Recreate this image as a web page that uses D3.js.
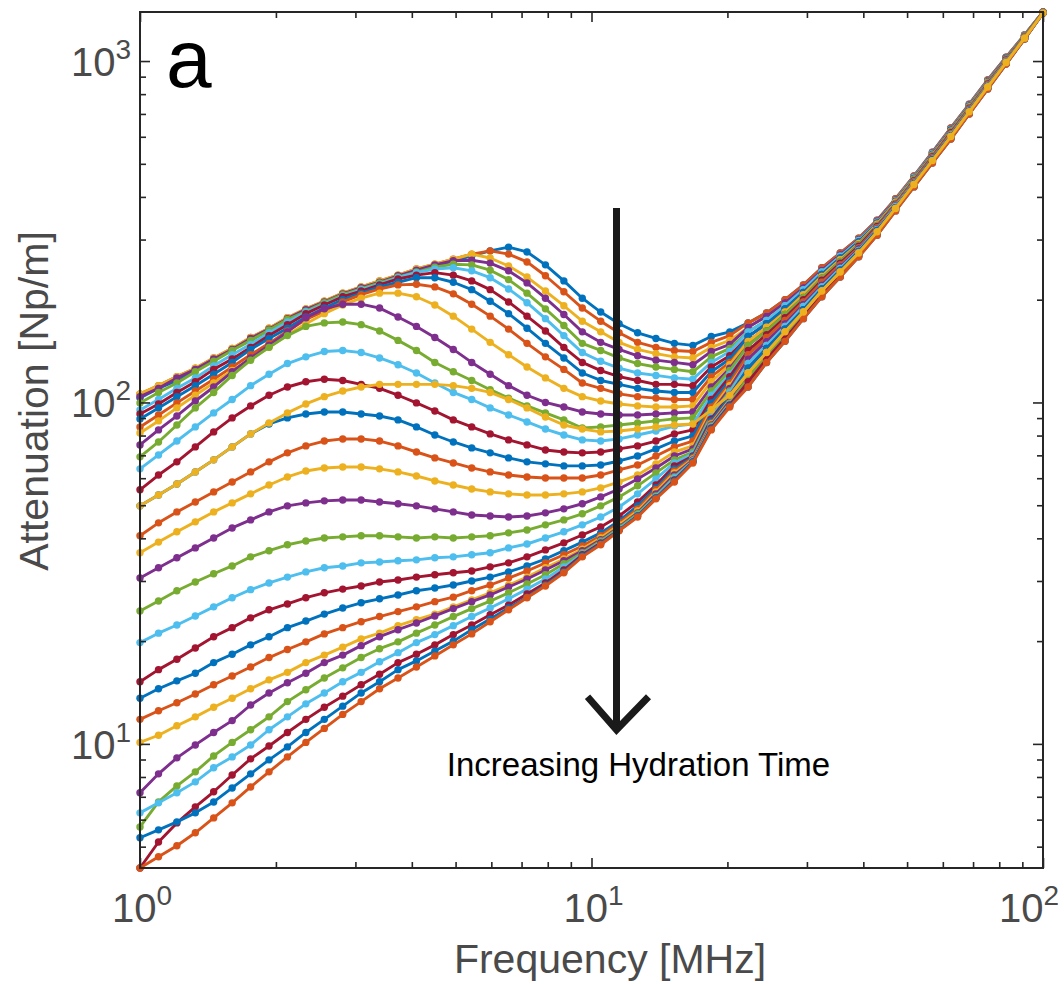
<!DOCTYPE html>
<html>
<head>
<meta charset="utf-8">
<script src="https://cdn.jsdelivr.net/npm/d3@7"></script>
<style>
  body { margin: 0; background: #fff; }
  svg text { font-family: "Liberation Sans", Arial, Helvetica, sans-serif; }
</style>
</head>
<body>
<svg id="chart" width="1064" height="984"></svg>
<script>
// measurement frequencies [MHz], 50 log-spaced points 1..100
const freqMHz = [1.000, 1.099, 1.207, 1.326, 1.456, 1.600, 1.758, 1.931, 2.121, 2.330,
  2.560, 2.812, 3.089, 3.393, 3.728, 4.095, 4.498, 4.942, 5.429, 5.964,
  6.551, 7.197, 7.906, 8.685, 9.541, 10.48, 11.51, 12.65, 13.89, 15.26,
  16.77, 18.42, 20.24, 22.23, 24.42, 26.83, 29.47, 32.37, 35.56, 39.07,
  42.92, 47.15, 51.79, 56.90, 62.51, 68.66, 75.43, 82.86, 91.03, 100.0];

// attenuation [Np/m] below ~20 MHz (first 33 frequencies), one list per hydration step
const low01 = [103, 110, 116, 125, 133, 143, 152, 163, 175, 185, 196, 207, 215, 224, 233, 243, 251, 260, 269, 278, 285, 276, 253, 227, 202, 184, 170, 160, 154, 149, 147, 156, 161];
const low02 = [106, 112, 119, 126, 135, 144, 155, 165, 177, 188, 198, 209, 218, 227, 236, 246, 254, 263, 272, 278, 272, 258, 235, 211, 189, 173, 160, 150, 145, 142, 141, 150, 157];
const low03 = [106, 112, 119, 126, 135, 144, 155, 165, 177, 188, 198, 209, 218, 227, 236, 246, 254, 263, 272, 265, 251, 233, 212, 192, 173, 161, 150, 143, 139, 136, 135, 145, 152];
const low04 = [104, 110, 118, 125, 134, 143, 154, 164, 176, 187, 197, 208, 217, 225, 235, 244, 253, 260, 261, 256, 243, 224, 202, 181, 161, 150, 143, 137, 133, 131, 129, 141, 148];
const low05 = [99.7, 107, 114, 123, 132, 142, 152, 163, 175, 185, 196, 207, 215, 224, 233, 241, 249, 254, 253, 244, 229, 209, 188, 168, 149, 142, 135, 130, 127, 125, 123, 136, 144];
const low06 = [95.1, 102, 110, 118, 128, 138, 148, 160, 172, 184, 194, 205, 214, 222, 232, 240, 246, 248, 243, 232, 215, 196, 176, 157, 140, 132, 126, 122, 120, 118, 117, 131, 141];
const low07 = [92.5, 99.0, 107, 115, 125, 134, 145, 157, 169, 182, 193, 204, 212, 221, 230, 236, 240, 236, 227, 214, 197, 179, 162, 145, 131, 124, 119, 116, 113, 113, 112, 127, 137];
const low08 = [89.5, 96.4, 104, 112, 121, 131, 143, 154, 165, 178, 189, 200, 209, 218, 225, 232, 232, 225, 214, 198, 182, 165, 149, 135, 122, 116, 113, 110, 108, 107, 107, 123, 134];
const low09 = [84.8, 91.9, 99.7, 108, 117, 127, 138, 149, 162, 175, 185, 197, 207, 215, 221, 222, 218, 208, 194, 179, 164, 149, 136, 125, 114, 110, 106, 104, 103, 102, 102, 119, 131];
const low10 = [81.4, 88.3, 96.4, 105, 114, 124, 134, 145, 158, 170, 182, 193, 202, 209, 209, 204, 193, 179, 164, 150, 138, 127, 118, 110, 104, 101, 99.0, 97.7, 97.0, 97.0, 97.7, 115, 129];
const low11 = [75.1, 83.1, 91.3, 101, 111, 123, 135, 147, 161, 177, 188, 194, 194, 189, 178, 167, 155, 143, 131, 121, 112, 105, 100, 97.0, 93.8, 92.5, 91.9, 91.9, 92.5, 93.2, 93.8, 111, 126];
const low12 = [69.3, 76.6, 85.9, 96.4, 107, 120, 133, 145, 157, 167, 171, 172, 169, 162, 152, 142, 131, 123, 116, 109, 103, 97.7, 93.2, 88.9, 84.2, 84.8, 85.9, 87.1, 88.3, 89.5, 90.1, 108, 124];
const low13 = [63.9, 70.2, 77.1, 84.8, 93.2, 102, 112, 121, 130, 136, 141, 142, 140, 135, 129, 122, 114, 107, 102, 96.4, 91.9, 87.7, 83.6, 80.3, 77.7, 77.1, 78.2, 80.3, 82.5, 85.3, 86.5, 105, 121];
const low14 = [55.5, 61.3, 67.0, 74.1, 82.0, 90.1, 97.7, 105, 111, 115, 117, 116, 113, 110, 105, 99.7, 94.4, 88.9, 84.8, 80.9, 77.7, 75.1, 72.6, 71.6, 71.2, 71.6, 73.1, 74.6, 77.1, 80.9, 83.1, 102, 119];
const low15 = [49.8, 53.6, 57.7, 62.6, 67.9, 74.1, 80.9, 86.5, 90.1, 92.5, 93.8, 93.8, 92.5, 91.3, 88.9, 84.8, 80.3, 76.6, 73.6, 71.2, 68.8, 67.0, 66.1, 65.2, 65.2, 65.6, 67.4, 69.7, 73.1, 77.1, 79.8, 99.7, 116];
const low16 = [40.7, 44.4, 47.8, 51.1, 54.7, 58.5, 62.6, 67.0, 71.2, 74.6, 77.1, 78.2, 78.2, 77.1, 74.6, 71.6, 68.8, 66.5, 64.3, 62.6, 61.3, 60.5, 60.1, 60.1, 60.1, 61.3, 63.5, 65.6, 69.7, 74.1, 77.1, 97.0, 114];
const low17 = [36.3, 39.0, 41.8, 44.7, 47.8, 50.8, 54.0, 57.3, 60.5, 63.0, 64.3, 64.7, 64.7, 63.9, 62.6, 60.9, 58.9, 57.3, 55.8, 54.7, 54.0, 53.6, 53.6, 54.0, 54.7, 56.2, 58.5, 61.3, 66.1, 71.6, 74.6, 95.1, 112];
const low18 = [30.6, 32.8, 35.1, 37.5, 40.1, 42.9, 45.3, 47.8, 49.8, 50.8, 51.5, 51.8, 51.8, 51.1, 50.5, 49.8, 48.8, 47.8, 46.8, 46.5, 46.2, 46.5, 47.5, 48.8, 50.5, 52.9, 55.8, 59.7, 64.3, 69.7, 73.1, 93.2, 110];
const low19 = [24.5, 26.2, 28.1, 29.8, 31.5, 33.2, 35.3, 36.8, 38.3, 39.3, 40.1, 40.4, 40.7, 40.7, 40.4, 40.1, 40.4, 40.1, 40.4, 40.7, 41.5, 42.3, 43.8, 45.3, 47.2, 49.8, 52.9, 57.0, 62.2, 67.9, 71.6, 91.9, 108];
const low20 = [19.8, 21.1, 22.3, 23.7, 25.2, 26.8, 28.3, 29.6, 30.8, 31.9, 32.8, 33.2, 33.9, 34.1, 34.4, 34.6, 35.1, 35.3, 35.8, 36.3, 37.5, 38.5, 40.1, 41.8, 43.8, 46.2, 49.4, 54.0, 59.7, 66.5, 70.7, 90.7, 107];
const low21 = [15.2, 16.5, 17.7, 19.1, 20.6, 21.9, 23.4, 24.7, 25.7, 26.8, 27.7, 28.4, 29.0, 29.8, 30.2, 30.8, 31.3, 31.7, 32.1, 33.0, 33.9, 35.3, 37.0, 38.8, 40.9, 43.2, 46.5, 51.1, 57.3, 65.2, 69.7, 89.5, 105];
const low22 = [13.6, 14.5, 15.3, 16.1, 17.3, 18.3, 19.5, 20.6, 21.9, 22.9, 24.0, 25.0, 25.9, 26.6, 27.3, 28.1, 28.6, 29.2, 30.0, 30.8, 31.9, 33.2, 34.8, 36.8, 39.0, 41.5, 45.0, 49.8, 56.2, 63.9, 69.3, 88.3, 104];
const low23 = [11.8, 12.5, 13.2, 14.0, 14.9, 15.8, 16.8, 17.9, 18.9, 19.9, 21.0, 21.9, 22.8, 23.6, 24.4, 25.2, 26.1, 26.9, 28.1, 29.2, 30.6, 32.1, 33.9, 35.8, 38.0, 40.7, 44.4, 48.8, 55.5, 63.0, 68.8, 87.1, 102];
const low24 = [10.1, 10.6, 11.3, 12.0, 12.8, 13.6, 14.5, 15.4, 16.2, 17.3, 18.2, 19.2, 20.3, 21.1, 22.2, 23.1, 24.0, 25.2, 26.4, 27.7, 29.2, 30.8, 32.8, 34.8, 37.2, 40.1, 43.8, 48.1, 54.7, 62.2, 68.3, 86.5, 102];
const low25 = [7.19, 8.17, 9.10, 9.93, 10.8, 11.7, 13.0, 14.1, 15.1, 16.1, 17.3, 18.2, 19.4, 20.6, 21.6, 22.6, 23.7, 24.9, 26.1, 27.3, 28.8, 30.4, 32.3, 34.4, 36.8, 39.6, 43.2, 47.5, 54.0, 61.3, 67.9, 85.9, 101];
const low26 = [5.71, 6.76, 7.53, 8.28, 9.22, 10.1, 11.0, 12.0, 13.3, 14.4, 15.6, 16.7, 17.9, 19.0, 19.9, 21.1, 22.3, 23.6, 24.9, 26.2, 27.7, 29.4, 31.3, 33.7, 36.3, 39.3, 42.9, 47.2, 53.2, 60.5, 67.4, 85.3, 99.7];
const low27 = [6.28, 6.72, 7.19, 7.74, 8.51, 9.16, 9.93, 11.0, 12.0, 13.1, 14.1, 15.2, 16.2, 17.4, 18.5, 19.8, 20.9, 22.2, 23.6, 25.0, 26.6, 28.4, 30.4, 33.0, 36.0, 39.0, 42.6, 46.8, 52.9, 60.1, 67.4, 84.8, 99.0];
const low28 = [4.33, 5.16, 5.87, 6.54, 7.24, 8.11, 9.04, 9.86, 10.8, 11.8, 12.8, 13.8, 14.9, 16.0, 17.3, 18.3, 19.5, 20.9, 22.3, 23.9, 25.5, 27.5, 29.6, 32.3, 35.8, 38.8, 42.3, 46.5, 52.5, 59.3, 67.0, 84.2, 98.3];
const low29 = [5.31, 5.60, 5.91, 6.28, 6.76, 7.43, 8.17, 8.98, 9.80, 10.8, 11.8, 12.9, 14.1, 15.2, 16.5, 17.5, 18.7, 20.0, 21.6, 23.2, 25.0, 26.9, 29.2, 31.9, 35.5, 38.5, 42.3, 46.5, 52.5, 58.9, 67.0, 83.6, 97.7];
const low30 = [4.33, 4.67, 5.03, 5.49, 6.07, 6.72, 7.48, 8.28, 9.16, 10.1, 11.1, 12.2, 13.3, 14.5, 15.6, 16.8, 18.1, 19.5, 21.0, 22.8, 24.7, 26.8, 29.0, 31.7, 35.3, 38.3, 42.1, 46.2, 52.2, 58.5, 66.5, 83.1, 97.0];
const low31 = [49.8, 53.6, 57.7, 62.6, 67.9, 74.1, 80.9, 87.1, 93.2, 99.0, 104, 108, 111, 113, 113, 113, 113, 112, 110, 107, 102, 96.4, 90.7, 85.9, 83.6, 82.0, 82.5, 83.6, 84.8, 85.9, 86.5, 95.1, 105];

// above ~22 MHz the curves merge into one narrow band: read as 15 levels, top to bottom
const band01 = [171, 183, 200, 221, 248, 274, 303, 342, 395, 461, 541, 637, 748, 880, 1027, 1192, 1392];
const band02 = [166, 179, 196, 217, 244, 271, 300, 340, 392, 458, 539, 633, 745, 876, 1024, 1190, 1391];
const band03 = [161, 174, 192, 214, 241, 268, 298, 337, 390, 456, 536, 630, 741, 872, 1020, 1188, 1390];
const band04 = [156, 170, 188, 210, 237, 265, 295, 335, 388, 453, 533, 627, 738, 868, 1017, 1185, 1389];
const band05 = [151, 166, 184, 207, 234, 262, 292, 333, 386, 451, 530, 623, 734, 865, 1013, 1183, 1388];
const band06 = [147, 162, 181, 203, 231, 259, 290, 330, 383, 449, 527, 620, 730, 861, 1010, 1181, 1388];
const band07 = [142, 158, 177, 200, 228, 256, 287, 328, 381, 446, 525, 617, 727, 857, 1007, 1178, 1387];
const band08 = [138, 155, 174, 197, 225, 253, 284, 325, 379, 444, 522, 613, 724, 853, 1003, 1176, 1386];
const band09 = [134, 151, 170, 194, 221, 250, 282, 323, 377, 442, 519, 610, 720, 850, 1000, 1174, 1386];
const band10 = [130, 147, 167, 191, 218, 247, 279, 321, 375, 439, 516, 607, 717, 846, 997, 1171, 1385];
const band11 = [126, 144, 164, 187, 215, 244, 277, 319, 372, 437, 514, 604, 713, 842, 993, 1169, 1384];
const band12 = [122, 140, 161, 184, 212, 241, 274, 316, 370, 435, 511, 601, 710, 839, 990, 1167, 1384];
const band13 = [118, 137, 158, 181, 209, 239, 272, 314, 368, 432, 508, 597, 706, 835, 987, 1165, 1383];
const band14 = [115, 134, 154, 178, 207, 236, 269, 312, 366, 430, 506, 594, 703, 832, 983, 1162, 1383];
const band15 = [111, 131, 151, 176, 204, 233, 267, 309, 364, 428, 503, 591, 700, 828, 980, 1160, 1382];

const lows = [low01, low02, low03, low04, low05, low06, low07, low08, low09, low10,
  low11, low12, low13, low14, low15, low16, low17, low18, low19, low20,
  low21, low22, low23, low24, low25, low26, low27, low28, low29, low30, low31];
const bands = [band01, band02, band03, band04, band05, band06, band07, band08,
  band09, band10, band11, band12, band13, band14, band15];
// which band level each curve joins above 22 MHz
const bandOf = [1, 1, 2, 2, 3, 3, 4, 4, 5, 5, 6, 6, 7, 7, 8, 8, 9, 9, 10, 10,
  11, 11, 12, 12, 13, 13, 14, 14, 15, 15, 12];

const xMajor = [1, 10, 100];
const xMinor = [2, 3, 4, 5, 6, 7, 8, 9, 20, 30, 40, 50, 60, 70, 80, 90];
const yMajor = [10, 100, 1000];
const yMinor = [5, 6, 7, 8, 9, 20, 30, 40, 50, 60, 70, 80, 90, 200, 300, 400, 500, 600, 700, 800, 900];

const matlab = ["#0072BD", "#D95319", "#EDB120", "#7E2F8E", "#77AC30", "#4DBEEE", "#A2142F"];

const svg = d3.select("#chart");
const x = d3.scaleLog().domain([1, 100]).range([140, 1043]);
const y = d3.scaleLog().domain([4.33, 1392]).range([868, 12]);
const colour = d3.scaleOrdinal().domain(d3.range(7)).range(matlab);

const series = lows.map((lo, k) => lo.concat(bands[bandOf[k] - 1]));

const line = d3.line()
  .x((d, i) => x(freqMHz[i]))
  .y(d => y(d));

const plot = svg.append("g");
series.forEach((vals, k) => {
  const c = colour(k % 7);
  plot.append("path")
    .datum(vals)
    .attr("d", line)
    .attr("fill", "none")
    .attr("stroke", c)
    .attr("stroke-width", 2.9)
    .attr("stroke-linejoin", "round");
  plot.append("g")
    .selectAll("circle")
    .data(vals)
    .join("circle")
    .attr("cx", (d, i) => x(freqMHz[i]))
    .attr("cy", d => y(d))
    .attr("r", 3.7)
    .attr("fill", c);
});

// axes box + inward ticks on all four sides
const axisCol = "#262626";
function tickSet(axis, vals, len, tr) {
  svg.append("g")
    .attr("transform", tr)
    .call(axis.tickValues(vals).tickSizeInner(-len).tickSizeOuter(0).tickFormat(""))
    .call(g => g.select(".domain").remove())
    .selectAll("line")
    .attr("stroke", axisCol)
    .attr("stroke-width", 1.6);
}
tickSet(d3.axisBottom(x), xMajor, 10, "translate(0,868)");
tickSet(d3.axisBottom(x), xMinor, 6, "translate(0,868)");
tickSet(d3.axisTop(x), xMajor, 10, "translate(0,12)");
tickSet(d3.axisTop(x), xMinor, 6, "translate(0,12)");
tickSet(d3.axisLeft(y), yMajor, 10, "translate(140,0)");
tickSet(d3.axisLeft(y), yMinor, 6, "translate(140,0)");
tickSet(d3.axisRight(y), yMajor, 10, "translate(1043,0)");
tickSet(d3.axisRight(y), yMinor, 6, "translate(1043,0)");

svg.append("rect")
  .attr("x", 140).attr("y", 12)
  .attr("width", 903).attr("height", 856)
  .attr("fill", "none")
  .attr("stroke", axisCol)
  .attr("stroke-width", 2);

// tick labels 10^n
const labCol = "#4a4a4a";
function powLabel(sel) {
  sel.each(function(d) {
    const t = d3.select(this);
    t.append("tspan").text("10");
    t.append("tspan").attr("dy", -17).attr("font-size", 28).text(Math.round(Math.log10(d)));
  });
}
svg.append("g").selectAll("text")
  .data(xMajor)
  .join("text")
  .attr("x", (d, i) => i === xMajor.length - 1 ? 1059 : x(d) + 2)
  .attr("y", 922)
  .attr("text-anchor", (d, i) => i === xMajor.length - 1 ? "end" : "middle")
  .attr("font-size", 40)
  .attr("fill", labCol)
  .call(powLabel);

svg.append("g").selectAll("text")
  .data(yMajor)
  .join("text")
  .attr("x", 131)
  .attr("y", d => y(d) + 15)
  .attr("text-anchor", "end")
  .attr("font-size", 40)
  .attr("fill", labCol)
  .call(powLabel);

svg.append("text")
  .attr("x", 610)
  .attr("y", 973)
  .attr("text-anchor", "middle")
  .attr("font-size", 41)
  .attr("fill", labCol)
  .text("Frequency [MHz]");

svg.append("text")
  .attr("transform", "translate(48,401) rotate(-90)")
  .attr("text-anchor", "middle")
  .attr("font-size", 41)
  .attr("fill", labCol)
  .text("Attenuation [Np/m]");

// panel letter
svg.append("text")
  .attr("x", 166)
  .attr("y", 87)
  .attr("font-size", 82)
  .attr("fill", "#000")
  .text("a");

// hydration-time arrow
const arrowF = 11.36, arrowTop = 371, arrowTip = 11.0;
const ax = x(arrowF), ay0 = y(arrowTop), ay1 = y(arrowTip);
svg.append("line")
  .attr("x1", ax).attr("x2", ax)
  .attr("y1", ay0).attr("y2", ay1 - 3)
  .attr("stroke", "#1a1a1a")
  .attr("stroke-width", 7);
svg.append("path")
  .attr("d", `M${ax - 29},${ay1 - 33}L${ax},${ay1}L${ax + 32},${ay1 - 33}`)
  .attr("fill", "none")
  .attr("stroke", "#1a1a1a")
  .attr("stroke-width", 7);
svg.append("text")
  .attr("x", ax + 22)
  .attr("y", ay1 + 46)
  .attr("text-anchor", "middle")
  .attr("font-size", 33)
  .attr("fill", "#000")
  .text("Increasing Hydration Time");
</script>
</body>
</html>
